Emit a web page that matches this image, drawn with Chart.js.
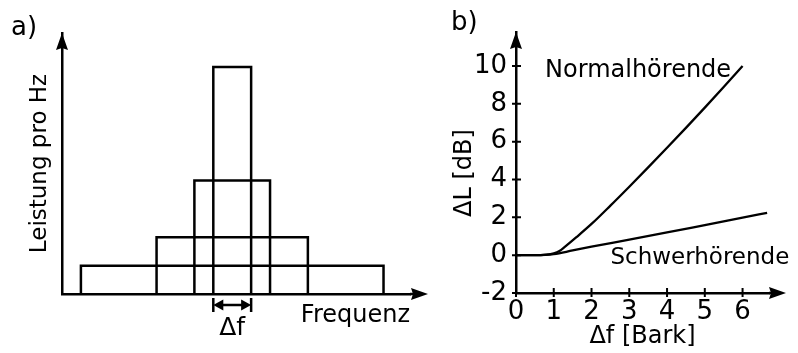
<!DOCTYPE html>
<html>
<head>
<meta charset="utf-8">
<script src="https://cdn.jsdelivr.net/npm/chart.js@4.4.0/dist/chart.umd.min.js"></script>
<style>
  html, body { margin: 0; padding: 0; background: #fff; }
  #wrap { position: relative; width: 798px; height: 353px; }
  canvas { position: absolute; top: 0; }
  #spectrum { left: 0; }
  #masking { left: 440px; }
</style>
</head>
<body>
<div id="wrap">
  <canvas id="spectrum" width="440" height="353"></canvas>
  <canvas id="masking" width="358" height="353"></canvas>
</div>
<script>
// a) noise bands with the same total power, widths in units of Δf
const bandWidths = [1, 2, 4, 8];
const bandLevels = [8, 4, 2, 1];

// b) ΔL over Δf
const normalX = [0, 0.5, 0.8, 1.0, 1.15, 1.3, 1.6, 2.0, 2.5, 3.0, 3.5, 4.0, 4.5, 5.0, 5.5, 6.0];
const normalY = [0, 0, 0.03, 0.1, 0.22, 0.45, 0.95, 1.65, 2.62, 3.62, 4.64, 5.68, 6.73, 7.8, 8.89, 10.0];
const hardX = [0, 0.5, 1.0, 1.5, 2, 3, 4, 5, 6, 6.65];
const hardY = [0, 0, 0.05, 0.25, 0.45, 0.82, 1.2, 1.59, 1.98, 2.24];
const xTicksB = [0, 1, 2, 3, 4, 5, 6];
const yTicksB = [-2, 0, 2, 4, 6, 8, 10];

Chart.defaults.font.family = "'DejaVu Sans', sans-serif";
Chart.defaults.color = '#000';
Chart.defaults.animation = false;

function arrowHead(ctx, x, y, dir) {
  ctx.save();
  ctx.translate(x, y);
  if (dir === 'right') ctx.rotate(Math.PI / 2);
  ctx.beginPath();
  ctx.moveTo(0, 0);
  ctx.lineTo(6, 17);
  ctx.lineTo(0, 15);
  ctx.lineTo(-6, 17);
  ctx.closePath();
  ctx.fill();
  ctx.restore();
}

// axis extensions with arrow heads
const axisArrows = {
  id: 'axisArrows',
  afterDraw(chart, args, opts) {
    const { ctx, chartArea: a } = chart;
    ctx.save();
    ctx.strokeStyle = '#000';
    ctx.fillStyle = '#000';
    ctx.lineWidth = 2.5;
    ctx.beginPath();
    ctx.moveTo(a.right, a.bottom);
    ctx.lineTo(a.right + opts.right - 10, a.bottom);
    ctx.stroke();
    arrowHead(ctx, a.right + opts.right, a.bottom, 'right');
    arrowHead(ctx, a.left, a.top, 'up');
    ctx.restore();
  }
};

// free text drawn at pixel spots
const notes = {
  id: 'notes',
  afterDraw(chart, args, opts) {
    const ctx = chart.ctx;
    ctx.save();
    ctx.fillStyle = '#000';
    (opts.items || []).forEach(t => {
      ctx.save();
      ctx.font = t.size + "px 'DejaVu Sans'";
      ctx.textAlign = t.align || 'left';
      ctx.textBaseline = 'alphabetic';
      let x = t.x, y = t.y;
      if (t.data) {
        x = chart.scales.x.getPixelForValue(t.data[0]);
        y = chart.scales.y.getPixelForValue(t.data[1]);
      }
      ctx.translate(x, y);
      if (t.rotate) ctx.rotate(t.rotate);
      ctx.fillText(t.text, 0, 0);
      ctx.restore();
    });
    ctx.restore();
  }
};

// Δf marker under the narrowest band
const deltaMarker = {
  id: 'deltaMarker',
  afterDraw(chart) {
    const { ctx, scales: { x }, chartArea: a } = chart;
    const x0 = x.getPixelForValue(-bandWidths[0] / 2);
    const x1 = x.getPixelForValue(bandWidths[0] / 2);
    const yy = a.bottom + 11;
    ctx.save();
    ctx.strokeStyle = '#000';
    ctx.fillStyle = '#000';
    ctx.lineWidth = 2.5;
    ctx.beginPath();
    ctx.moveTo(x0, yy - 7); ctx.lineTo(x0, yy + 7);
    ctx.moveTo(x1, yy - 7); ctx.lineTo(x1, yy + 7);
    ctx.moveTo(x0 + 4, yy); ctx.lineTo(x1 - 4, yy);
    ctx.stroke();
    [[x0, 1], [x1, -1]].forEach(([px, s]) => {
      ctx.beginPath();
      ctx.moveTo(px, yy);
      ctx.lineTo(px + s * 10, yy - 5.5);
      ctx.lineTo(px + s * 10, yy + 5.5);
      ctx.closePath();
      ctx.fill();
    });
    ctx.font = "25px 'DejaVu Sans'";
    ctx.textAlign = 'center';
    ctx.fillText('Δf', (x0 + x1) / 2, a.bottom + 41);
    ctx.restore();
  }
};

// tick marks crossing the axes in panel b
const crossTicks = {
  id: 'crossTicks',
  afterDraw(chart) {
    const { ctx, scales: { x, y }, chartArea: a } = chart;
    ctx.save();
    ctx.strokeStyle = '#000';
    ctx.lineWidth = 2;
    ctx.beginPath();
    xTicksB.forEach(v => {
      const px = x.getPixelForValue(v);
      ctx.moveTo(px, a.bottom - 5); ctx.lineTo(px, a.bottom + 4);
    });
    yTicksB.forEach(v => {
      const py = y.getPixelForValue(v);
      ctx.moveTo(a.left - 4, py); ctx.lineTo(a.left + 5, py);
    });
    ctx.stroke();
    ctx.restore();
  }
};

const axisBorder = { display: true, color: '#000', width: 2.5 };
const noGrid = { display: false, drawTicks: false };

const bandSets = bandWidths.map((w, i) => ({
  data: [
    { x: -w / 2, y: 0 }, { x: -w / 2, y: bandLevels[i] },
    { x: w / 2, y: bandLevels[i] }, { x: w / 2, y: 0 }
  ],
  showLine: true,
  borderColor: '#000',
  borderWidth: 2.5,
  pointRadius: 0,
  fill: false,
  clip: false
}));

new Chart(document.getElementById('spectrum'), {
  type: 'scatter',
  data: { datasets: bandSets },
  options: {
    responsive: false,
    layout: { padding: { left: 26, top: 33, right: 30, bottom: 23 } },
    plugins: {
      legend: { display: false },
      tooltip: { enabled: false },
      axisArrows: { right: 18 },
      notes: { items: [{ text: 'a)', x: 11, y: 35, size: 26 }] }
    },
    scales: {
      x: {
        type: 'linear', min: -4.5, max: 4.7,
        grid: noGrid, border: axisBorder,
        ticks: { display: false },
        title: { display: true, text: 'Frequenz', align: 'end', font: { size: 24 }, padding: 0 },
        afterFit: s => { s.height = 36; }
      },
      y: {
        min: 0, max: 9.2,
        grid: noGrid, border: axisBorder,
        ticks: { display: false },
        title: { display: true, text: 'Leistung pro Hz', font: { size: 23 }, padding: 0 },
        afterFit: s => { s.width = 36; }
      }
    }
  },
  plugins: [axisArrows, notes, deltaMarker]
});

new Chart(document.getElementById('masking'), {
  type: 'scatter',
  data: {
    datasets: [
      {
        data: normalX.map((v, i) => ({ x: v, y: normalY[i] })),
        showLine: true, borderColor: '#000', borderWidth: 2.3, pointRadius: 0,
        cubicInterpolationMode: 'monotone', clip: false
      },
      {
        data: hardX.map((v, i) => ({ x: v, y: hardY[i] })),
        showLine: true, borderColor: '#000', borderWidth: 2.3, pointRadius: 0,
        cubicInterpolationMode: 'monotone', clip: false
      }
    ]
  },
  options: {
    responsive: false,
    layout: { padding: { left: 8, top: 32, right: 29, bottom: 2 } },
    plugins: {
      legend: { display: false },
      tooltip: { enabled: false },
      axisArrows: { right: 17 },
      notes: {
        items: [
          { text: 'b)', x: 11, y: 30, size: 26 },
          { text: 'ΔL [dB]', x: 31, y: 173, size: 24, align: 'center', rotate: -Math.PI / 2 },
          { text: 'Normalhörende', data: [0.77, 9.42], size: 24 },
          { text: 'Schwerhörende', data: [2.5, -0.48], size: 23 }
        ]
      }
    },
    scales: {
      x: {
        type: 'linear', min: 0, max: 6.7,
        grid: noGrid, border: axisBorder,
        afterBuildTicks: s => { s.ticks = xTicksB.map(v => ({ value: v })); },
        ticks: { font: { size: 26 }, padding: 4, maxRotation: 0 },
        title: { display: true, text: 'Δf [Bark]', font: { size: 24 }, padding: 0 },
        afterFit: s => { s.height = 58; }
      },
      y: {
        min: -2, max: 11.8,
        grid: noGrid, border: axisBorder,
        afterBuildTicks: s => { s.ticks = yTicksB.map(v => ({ value: v })); },
        ticks: { font: { size: 26 }, padding: 9 },
        afterFit: s => { s.width = 68; }
      }
    }
  },
  plugins: [axisArrows, notes, crossTicks]
});
</script>
</body>
</html>
